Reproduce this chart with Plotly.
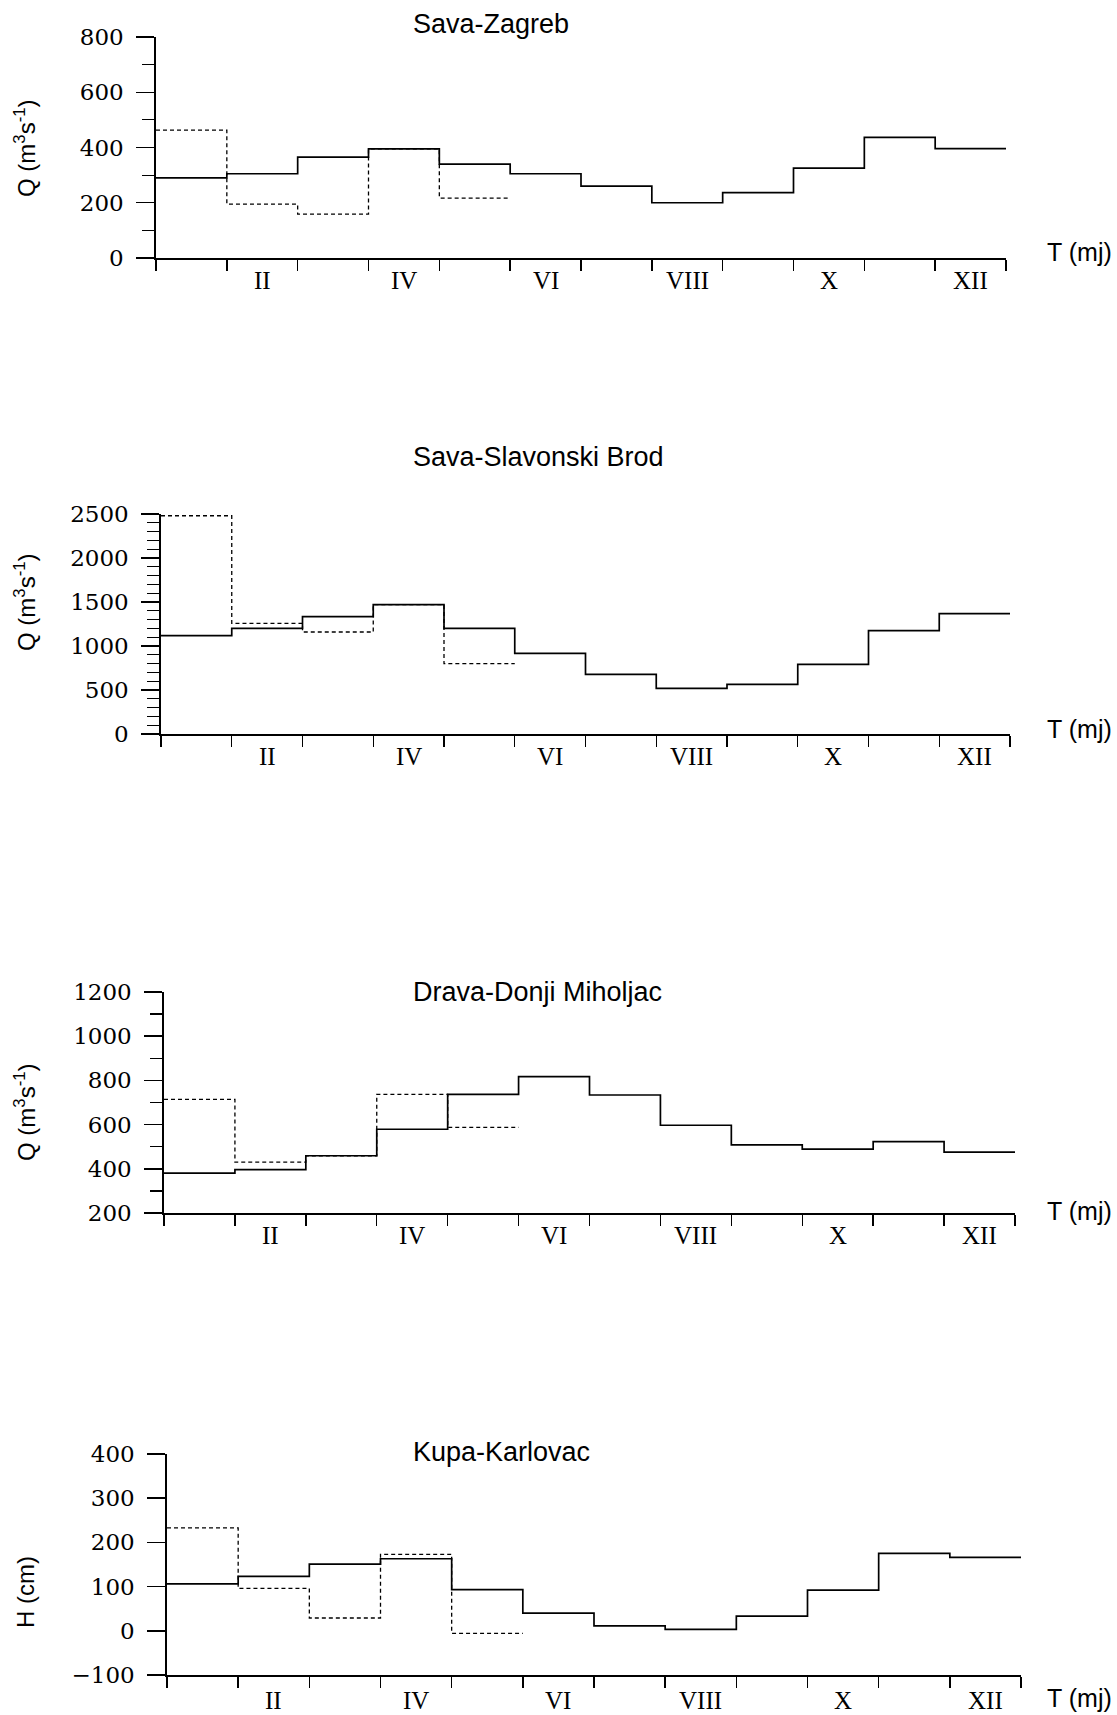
import plotly.graph_objects as go

W, H = 1117, 1715

# ---------------- data ----------------
month_labels = ["II", "IV", "VI", "VIII", "X", "XII"]
month_label_pos = [1.5, 3.5, 5.5, 7.5, 9.5, 11.5]

titles = ["Sava-Zagreb", "Sava-Slavonski Brod", "Drava-Donji Miholjac", "Kupa-Karlovac"]
ytitles = ["Q (m<sup>3</sup>s<sup>-1</sup>)", "Q (m<sup>3</sup>s<sup>-1</sup>)",
           "Q (m<sup>3</sup>s<sup>-1</sup>)", "H (cm)"]
xtitle = "T (mj)"

zagreb_solid = [290, 305, 365, 395, 340, 305, 260, 200, 237, 325, 437, 396]
zagreb_dashed = [463, 195, 159, 395, 217]
brod_solid = [1117, 1201, 1333, 1470, 1201, 917, 678, 519, 564, 792, 1174, 1367]
brod_dashed = [2480, 1258, 1159, 1470, 799]
drava_solid = [380, 396, 459, 579, 737, 817, 734, 597, 508, 489, 523, 475]
drava_dashed = [714, 430, 459, 737, 587]
kupa_solid = [106, 123, 151, 163, 93, 40, 11, 3, 33, 92, 175, 166]
kupa_dashed = [233, 96, 29, 173, -6]

solids = [zagreb_solid, brod_solid, drava_solid, kupa_solid]
dasheds = [zagreb_dashed, brod_dashed, drava_dashed, kupa_dashed]

y_ranges = [(0, 800), (0, 2500), (200, 1200), (-100, 400)]
y_major = [list(range(0, 801, 200)), list(range(0, 2501, 500)),
           list(range(200, 1201, 200)), list(range(-100, 401, 100))]
y_minor = [list(range(100, 800, 200)),
           [v for v in range(100, 2500, 100) if v % 500],
           list(range(300, 1200, 200)),
           []]

# ---------------- layout geometry (page pixels) ----------------
panels = [  # x0, x1, ytop, ybottom
    (156, 1006, 37, 258),
    (161, 1010, 514, 734),
    (164, 1015, 992, 1213),
    (167, 1021, 1454, 1675),
]
title_x = 411
title_y = [24, 457, 992, 1452]
xt_x = 1045
xt_y = [252, 729, 1211, 1698]
yt_x = 25
yt_y = [148, 602, 1112, 1592]
lab_shift = [-22, -22, -22, -25]

SERIF = "DejaVu Serif"
ROMAN = "Liberation Serif"
SANS = "Liberation Sans"


def px(x):
    return x / W


def py(y):
    return 1 - y / H


fig = go.Figure()
annotations = []
layout = {}

for k in range(4):
    n = "" if k == 0 else str(k + 1)
    x0, x1, yt, yb = panels[k]
    s = solids[k]
    d = dasheds[k]
    fig.add_trace(go.Scatter(
        x=list(range(len(s) + 1)), y=s + [s[-1]], mode="lines",
        line=dict(shape="hv", color="black", width=1.7),
        xaxis="x" + n, yaxis="y" + n, showlegend=False, hoverinfo="skip"))
    fig.add_trace(go.Scatter(
        x=list(range(len(d) + 1)), y=d + [d[-1]], mode="lines",
        line=dict(shape="hv", color="black", width=1.3, dash="4px,3px"),
        xaxis="x" + n, yaxis="y" + n, showlegend=False, hoverinfo="skip"))

    layout["xaxis" + n] = dict(
        domain=[px(x0), px(x1)], anchor="y" + n, range=[0, 12],
        tickvals=list(range(13)), showticklabels=False,
        ticks="outside", ticklen=11, tickwidth=1.4, tickcolor="black",
        showline=True, linecolor="black", linewidth=1.7, automargin=False,
        showgrid=False, zeroline=False, fixedrange=True)
    ymin, ymax = y_ranges[k]
    layout["yaxis" + n] = dict(
        domain=[py(yb), py(yt)], anchor="x" + n, range=[ymin, ymax],
        tickvals=y_major[k], ticks="outside", ticklen=18, tickwidth=1.4,
        tickcolor="black", ticklabelstandoff=8, automargin=False,
        tickfont=dict(family=SERIF, size=23, color="black"),
        minor=dict(tickvals=y_minor[k], ticks="outside", ticklen=12,
                   tickwidth=1.2, tickcolor="black", showgrid=False),
        showline=True, linecolor="black", linewidth=1.7,
        showgrid=False, zeroline=False, fixedrange=True)

    for lab, pos in zip(month_labels, month_label_pos):
        annotations.append(dict(
            text=lab, x=pos, xref="x" + n, y=0, yref="y" + n + " domain",
            xanchor="center", yanchor="middle", yshift=lab_shift[k],
            showarrow=False, font=dict(family=ROMAN, size=25, color="black")))
    annotations.append(dict(
        text=titles[k], x=px(title_x), xref="paper", y=py(title_y[k]), yref="paper",
        xanchor="left", yanchor="middle", showarrow=False,
        font=dict(family=SANS, size=27, color="black")))
    annotations.append(dict(
        text=xtitle, x=px(xt_x), xref="paper", y=py(xt_y[k]), yref="paper",
        xanchor="left", yanchor="middle", showarrow=False,
        font=dict(family=SANS, size=25, color="black")))
    annotations.append(dict(
        text=ytitles[k], x=px(yt_x), xref="paper", y=py(yt_y[k]), yref="paper",
        xanchor="center", yanchor="middle", textangle=-90, showarrow=False,
        font=dict(family=SANS, size=24, color="black")))

fig.update_layout(
    width=W, height=H, margin=dict(l=0, r=0, t=0, b=0, autoexpand=False),
    paper_bgcolor="white", plot_bgcolor="white", hovermode=False,
    annotations=annotations, **layout)

fig.write_html(
    "out.html",
    config={"displayModeBar": False, "staticPlot": True},
    post_script=("document.body.style.margin='0px';"
                 "document.documentElement.style.overflow='hidden';"
                 "document.body.style.overflow='hidden';"))
